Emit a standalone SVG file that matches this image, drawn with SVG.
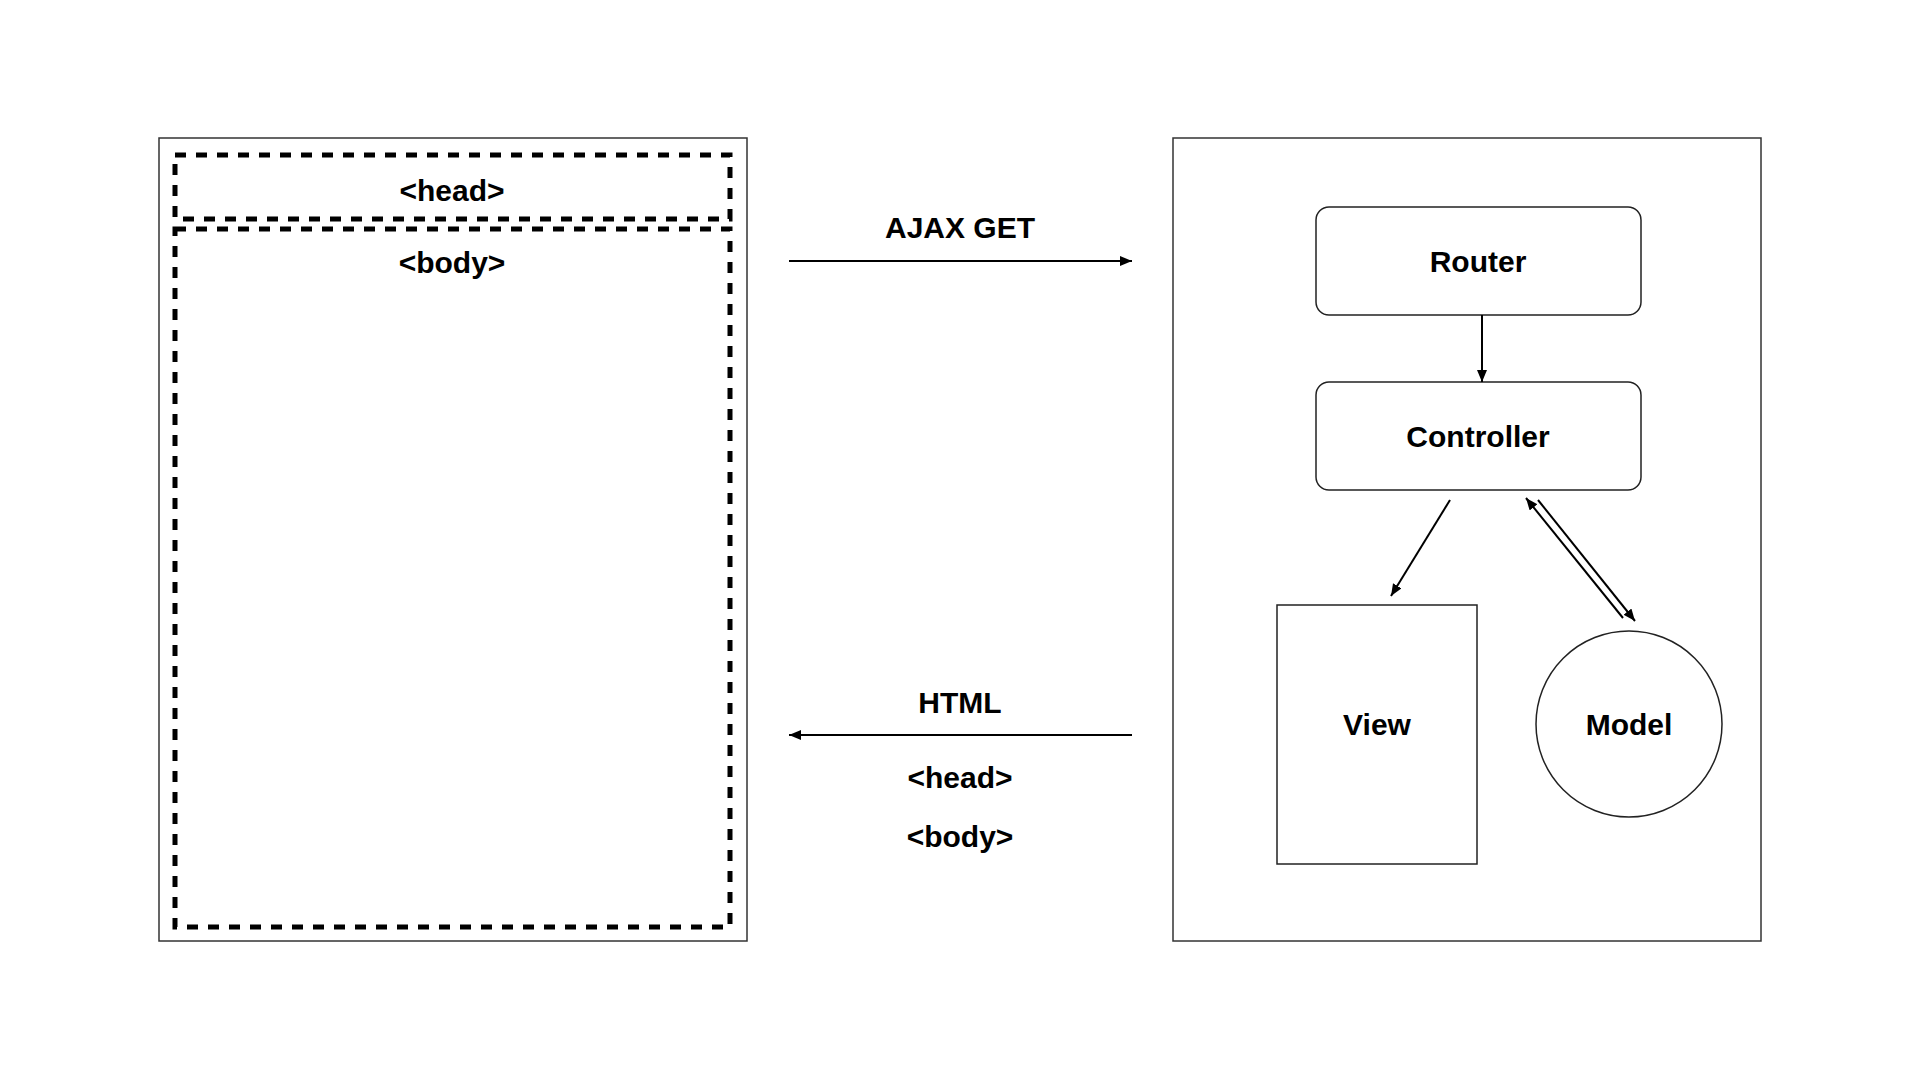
<svg xmlns="http://www.w3.org/2000/svg" width="1920" height="1080" viewBox="0 0 1920 1080">
<style>
.frame{fill:#fff;stroke:#333;stroke-width:1.5}
.dash{fill:none;stroke:#000;stroke-width:5;stroke-dasharray:11 10}
.node{fill:#fff;stroke:#222;stroke-width:1.5}
.lbl{font-family:"Liberation Sans",Arial,Helvetica,sans-serif;font-size:30px;font-weight:bold;fill:#000;text-anchor:middle}
.conn{stroke:#000;stroke-width:2;fill:none}
</style>
<defs>
<marker id="arr" markerUnits="userSpaceOnUse" markerWidth="14" markerHeight="12" refX="12" refY="5" orient="auto">
<path d="M0,0 L12,5 L0,10 z" fill="#000"/>
</marker>
</defs>
<rect width="1920" height="1080" fill="#fff"/>
<g id="browser">
<rect class="frame" x="159" y="138" width="588" height="803"/>
</g>
<g id="head-block">
<rect class="dash" x="175" y="155" width="555" height="64"/>
<text class="lbl" x="452" y="201">&lt;head&gt;</text>
</g>
<g id="body-block">
<rect class="dash" x="175" y="229" width="555" height="698"/>
<text class="lbl" x="452" y="273">&lt;body&gt;</text>
</g>
<g id="server">
<rect class="frame" x="1173" y="138" width="588" height="803"/>
</g>
<g id="router">
<rect class="node" x="1316" y="207" width="325" height="108" rx="13"/>
<text class="lbl" x="1478" y="272">Router</text>
</g>
<g id="controller">
<rect class="node" x="1316" y="382" width="325" height="108" rx="13"/>
<text class="lbl" x="1478" y="447">Controller</text>
</g>
<g id="view">
<rect class="node" x="1277" y="605" width="200" height="259"/>
<text class="lbl" x="1377" y="735">View</text>
</g>
<g id="model">
<circle class="node" cx="1629" cy="724" r="93"/>
<text class="lbl" x="1629" y="735">Model</text>
</g>
<g id="connectors">
<line class="conn" x1="789" y1="261" x2="1132" y2="261" marker-end="url(#arr)"/>
<text class="lbl" x="960" y="238">AJAX GET</text>
<line class="conn" x1="1132" y1="735" x2="789" y2="735" marker-end="url(#arr)"/>
<text class="lbl" x="960" y="713">HTML</text>
<text class="lbl" x="960" y="788">&lt;head&gt;</text>
<text class="lbl" x="960" y="847">&lt;body&gt;</text>
<line class="conn" x1="1482" y1="315" x2="1482" y2="382" marker-end="url(#arr)"/>
<line class="conn" x1="1450" y1="500" x2="1391" y2="596" marker-end="url(#arr)"/>
<line class="conn" x1="1623" y1="618" x2="1526" y2="498" marker-end="url(#arr)"/>
<line class="conn" x1="1538" y1="500" x2="1635" y2="621" marker-end="url(#arr)"/>
</g>
</svg>
